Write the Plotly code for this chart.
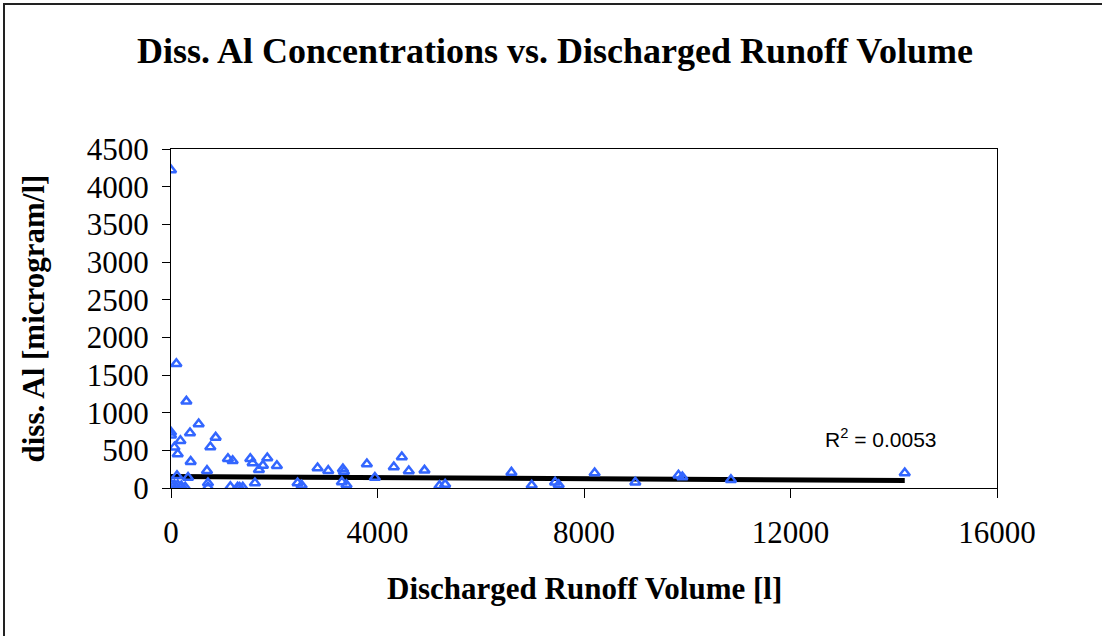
import plotly.graph_objects as go

# Discharged runoff volume [l] and dissolved Al concentration [microgram/l]
runoff_volume = [
    0, 104, 298, 536, 0, 0, 368, 865, 182, 66, 130, 762, 381, 1103, 1194,
    697, 1536, 1581, 1865, 1781, 1703, 2051, 2839, 3046, 3330, 3350, 3310,
    3400, 2452, 2530, 1626, 1150, 1290, 1330, 1390, 716, 716, 0, 66, 130,
    200, 275, 116, 330, 3794, 3949, 4316, 4471, 4606, 4910, 5200, 5310,
    6594, 6987, 7440, 7510, 8206, 8994, 9830, 9905, 10846, 14213,
]
diss_al = [
    4220, 1650, 1150, 850, 740, 700, 730, 672, 628, 540, 450, 545, 350, 389,
    362, 230, 389, 332, 398, 300, 243, 296, 265, 230, 252, 220, 80, 44, 66,
    35, 66, 17, 10, 5, 8, 66, 10, 50, 40, 40, 25, 10, 163, 140, 318, 140,
    278, 411, 225, 234, 30, 48, 207, 35, 75, 44, 199, 75, 170, 145, 110, 199,
]

# Linear trendline parameters and its reported fit
trend_intercept = 152.0
trend_slope = -0.00365
r_squared_label = "R<sup>2</sup> = 0.0053"

x_ticks = [0, 4000, 8000, 12000, 16000]
y_ticks = [0, 500, 1000, 1500, 2000, 2500, 3000, 3500, 4000, 4500]

trend_x = [min(runoff_volume), max(runoff_volume)]
trend_y = [trend_intercept + trend_slope * v for v in trend_x]

SERIF = "Liberation Serif, Times New Roman, serif"

fig = go.Figure()
fig.add_trace(go.Scatter(
    x=trend_x, y=trend_y, mode="lines",
    line=dict(color="black", width=5),
    showlegend=False, hoverinfo="skip",
))
fig.add_trace(go.Scatter(
    x=runoff_volume, y=diss_al, mode="markers",
    marker=dict(symbol="triangle-up-open", size=9, color="#3366FF",
                line=dict(width=2.5, color="#3366FF")),
    showlegend=False, hoverinfo="x+y",
))

fig.update_layout(
    width=1102, height=636,
    margin=dict(l=171, r=105, t=149, b=148),
    paper_bgcolor="white", plot_bgcolor="white",
    title=dict(
        text="<b>Diss. Al Concentrations vs. Discharged Runoff Volume</b>",
        font=dict(family=SERIF, size=36, color="black"),
        x=555 / 1102, xanchor="center", xref="container",
        y=1 - 50 / 636, yanchor="middle", yref="container",
    ),
    xaxis=dict(
        range=[0, 16000], tickvals=x_ticks, ticktext=[str(v) for v in x_ticks],
        showgrid=False, zeroline=False,
        showline=True, linecolor="black", linewidth=1, mirror=True,
        ticks="outside", ticklen=9, tickwidth=1, tickcolor="black",
        ticklabelstandoff=8,
        tickfont=dict(family=SERIF, size=31, color="black"),
    ),
    yaxis=dict(
        range=[0, 4500], tickvals=y_ticks, ticktext=[str(v) for v in y_ticks],
        showgrid=False, zeroline=False,
        showline=True, linecolor="black", linewidth=1, mirror=True,
        ticks="outside", ticklen=8, tickwidth=1, tickcolor="black",
        ticklabelstandoff=7,
        tickfont=dict(family=SERIF, size=31, color="black"),
    ),
    annotations=[
        dict(text="<b>Discharged Runoff Volume [l]</b>", xref="paper", yref="paper",
             x=0.5, y=(488 - 588) / 339, xanchor="center", yanchor="middle",
             showarrow=False, font=dict(family=SERIF, size=31, color="black")),
        dict(text="<b>diss. Al [microgram/l]</b>", xref="paper", yref="paper",
             x=(33 - 171) / 826, y=0.5, xanchor="center", yanchor="middle",
             textangle=-90, showarrow=False,
             font=dict(family=SERIF, size=31, color="black")),
        dict(text=r_squared_label, xref="paper", yref="paper",
             x=(881 - 171) / 826, y=(488 - 438) / 339,
             xanchor="center", yanchor="middle", showarrow=False,
             font=dict(family="Liberation Sans, Arial, sans-serif", size=21,
                       color="black")),
    ],
    shapes=[
        dict(type="rect", xref="paper", yref="paper",
             x0=(4 - 171) / 826, x1=(1120 - 171) / 826,
             y0=(488 - 660) / 339, y1=(488 - 4) / 339,
             line=dict(color="#222222", width=2), fillcolor="rgba(0,0,0,0)",
             layer="below"),
    ],
)

fig.write_html("out.html")
